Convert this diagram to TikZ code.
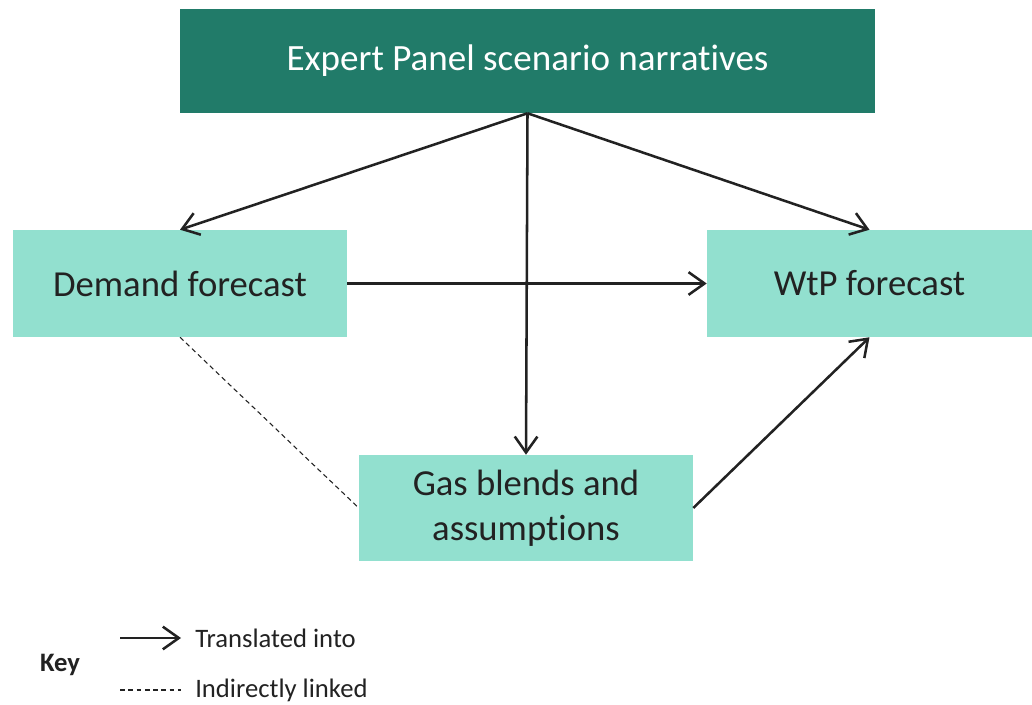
\documentclass[tikz,border=0pt]{standalone}
\usepackage{fontspec}
\setmainfont{Carlito}[Ligatures=NoCommon]
\usetikzlibrary{arrows.meta}

\definecolor{paneldark}{RGB}{33,123,105}
\definecolor{boxlight}{RGB}{146,224,207}
\definecolor{inkgray}{RGB}{34,34,34}

% sizes below are in pt (1px of the layout grid = 0.75pt)
\tikzset{
  panelbox/.style={fill=paneldark, text=white, minimum width=521pt, minimum height=78pt,
    inner sep=0pt, font=\fontsize{27.8}{33}\selectfont},
  forecastbox/.style={fill=boxlight, text=inkgray, minimum width=250.5pt, minimum height=80.25pt,
    inner sep=0pt, align=center, font=\fontsize{27.5}{34}\selectfont},
  translated/.style={draw=inkgray, line width=1.9pt,
    -{Straight Barb[length=12pt, width=17pt, line width=1.9pt]}},
  linked/.style={draw=inkgray, line width=0.8pt, dash pattern=on 3.6pt off 2.6pt},
  keytext/.style={text=inkgray, anchor=west, inner sep=0pt, font=\fontsize{20}{24}\selectfont}
}

\begin{document}
\begin{tikzpicture}[x=0.75pt, y=-0.75pt]
  \useasboundingbox (0,0) rectangle (1032,705);
  % The four boxes.
  \node[panelbox] (panel) at (527.5,61) {Expert Panel scenario narratives};
  \node[forecastbox] (demand) at (180,283.5) {Demand forecast};
  \node[forecastbox, minimum width=243.75pt] (wtp) at (869.5,283.5) {WtP forecast};
  \node[forecastbox, minimum height=79.5pt] (gas) at (526,508) {Gas blends and\\assumptions};
  % Links between them.
  \draw[translated] (panel.south) -- (demand.north);
  \draw[translated] (panel.south) -- (wtp.north);
  \draw[translated] (panel.south) -- (gas.north);
  \draw[translated] (demand.east) -- (wtp.west);
  \draw[translated] (gas.east) -- (wtp.south);
  \draw[linked] (demand.south) -- (gas.west);
  % Key.
  \node[text=inkgray, font=\fontsize{20}{24}\selectfont\bfseries] (key) at (60,665) {Key};
  \coordinate (arrowfrom) at (120,638);
  \coordinate (arrowto) at (181,638);
  \coordinate (dashfrom) at (120,690);
  \coordinate (dashto) at (181,690);
  \draw[translated] (arrowfrom) -- (arrowto);
  \draw[linked] (dashfrom) -- (dashto);
  \node[keytext] (translabel) at (195,638) {Translated into};
  \node[keytext] (linklabel) at (195,690) {Indirectly linked};
\end{tikzpicture}
\end{document}
